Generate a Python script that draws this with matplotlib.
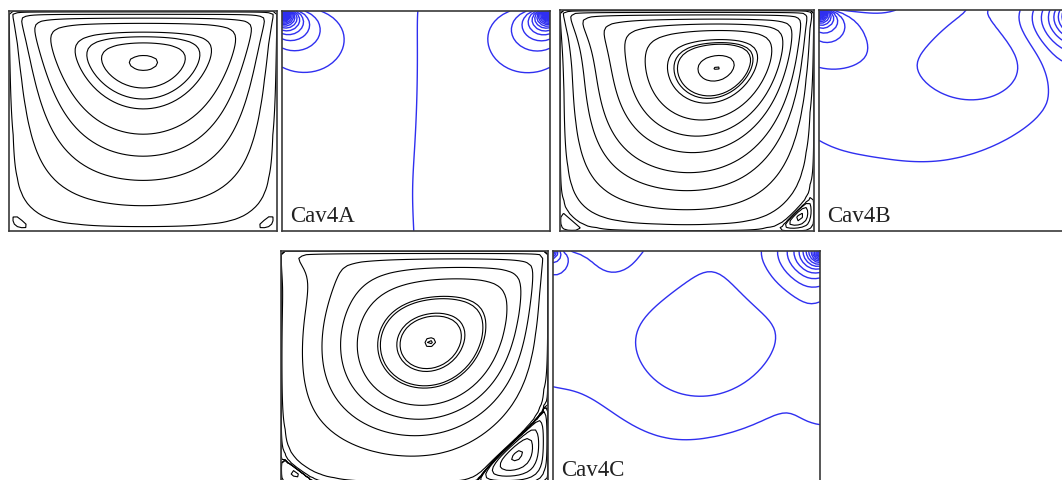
import numpy as np
import matplotlib
matplotlib.use("Agg")
import matplotlib.pyplot as plt

# lid-driven cavity cases: Reynolds number, grid intervals, run time
cases = ["Cav4A", "Cav4B", "Cav4C"]
reynolds = [1.0, 100.0, 400.0]
grid_n = [64, 64, 64]
t_stop = [0.2, 25.0, 35.0]

# streamlines: points (x, y) each main-vortex streamline passes through
psi_pts = [
    [(0.5, 0.73), (0.5, 0.65), (0.5, 0.60), (0.5, 0.555), (0.5, 0.44),
     (0.5, 0.34), (0.5, 0.23), (0.5, 0.115), (0.5, 0.02)],
    None,
    None,
]
# or, where no points are given, fractions of the vortex minimum
core_fracs = [
    None,
    [0.9995, 0.97, 0.88, 0.86, 0.82, 0.66, 0.5, 0.35, 0.2, 0.1, 0.03,
     3e-3, 1e-4],
    [0.9995, 0.998, 0.935, 0.92, 0.82, 0.80, 0.62, 0.45, 0.26, 0.09,
     1e-3, 1e-4, 1e-6],
]
# corner eddy levels, fractions of the strongest eddy
eddy_fracs = [
    [0.5],
    [0.02, 0.2, 0.5, 0.9],
    [1e-5, 1e-3, 0.02, 0.1, 0.3, 0.6, 0.95],
]
# isobars: a point on one isobar and a point on the next one
iso_pt0 = [(0.5, 0.5), (0.545, 0.595), (0.569, 0.38)]
iso_pt1 = [(0.0, 0.745), (0.0, 0.41), (0.0, 0.42)]
n_iso = 60

# panel boxes in pixels (left, top, right, bottom), figure is 1062x481
W, H = 1062.0, 481.0
stream_box = [(9, 12, 277, 232), (560, 11, 814, 232), (281, 252, 548, 486)]
press_box = [(282, 12, 550, 232), (819, 11, 1086, 232), (553, 252, 820, 486)]

BLUE = "#2f2ff0"


def solve_cavity(re, n, t_end):
    h = 1.0 / n
    k = np.arange(1, n)
    sn = np.sin(np.pi * np.outer(k, k) / n)
    lam = (2.0 * np.cos(np.pi * k / n) - 2.0) / h ** 2
    denom = (lam[:, None] + lam[None, :]) / (2.0 / n) ** 2
    psi = np.zeros((n + 1, n + 1))
    w = np.zeros((n + 1, n + 1))
    dt = min(0.2 * h * h * re, 1.0 / re, 0.5 * h)
    for _ in range(int(t_end / dt)):
        psi[1:-1, 1:-1] = sn @ ((sn @ (-w[1:-1, 1:-1]) @ sn) / denom) @ sn
        # Thom wall vorticity, lid last so its corners win
        w[:, 0] = -2.0 * psi[:, 1] / h ** 2
        w[:, -1] = -2.0 * psi[:, -2] / h ** 2
        w[0, :] = -2.0 * psi[1, :] / h ** 2
        w[-1, :] = -2.0 * (psi[-2, :] + h) / h ** 2
        u = (psi[2:, 1:-1] - psi[:-2, 1:-1]) / (2 * h)
        v = -(psi[1:-1, 2:] - psi[1:-1, :-2]) / (2 * h)
        wc = w[1:-1, 1:-1]
        wx = (w[1:-1, 2:] - w[1:-1, :-2]) / (2 * h)
        wy = (w[2:, 1:-1] - w[:-2, 1:-1]) / (2 * h)
        lap = (w[1:-1, 2:] + w[1:-1, :-2] + w[2:, 1:-1] + w[:-2, 1:-1] - 4 * wc) / h ** 2
        w[1:-1, 1:-1] = wc + dt * (lap / re - u * wx - v * wy)
    return psi, w


def pressure(psi, w, re, n):
    # least-squares fit of p to the momentum-equation pressure gradient
    h = 1.0 / n
    u = np.gradient(psi, h, axis=0)
    v = -np.gradient(psi, h, axis=1)
    u[0, :] = 0.0
    u[:, 0] = 0.0
    u[:, -1] = 0.0
    u[-1, :] = 1.0
    v[0, :] = 0.0
    v[-1, :] = 0.0
    v[:, 0] = 0.0
    v[:, -1] = 0.0
    cx = u * np.gradient(u, h, axis=1) + v * np.gradient(u, h, axis=0)
    cy = u * np.gradient(v, h, axis=1) + v * np.gradient(v, h, axis=0)
    for cc in (cx, cy):
        cc[0, :] = 0.0
        cc[-1, :] = 0.0
        cc[:, 0] = 0.0
        cc[:, -1] = 0.0
    gx = -cx - np.gradient(w, h, axis=0) / re
    gy = -cy + np.gradient(w, h, axis=1) / re
    ex = 0.5 * (gx[:, :-1] + gx[:, 1:])
    ey = 0.5 * (gy[:-1, :] + gy[1:, :])
    rhs = np.zeros_like(psi)
    rhs[:, :-1] += ex / h
    rhs[:, 1:] -= ex / h
    rhs[:-1, :] += ey / h
    rhs[1:, :] -= ey / h
    m = n + 1
    lap = np.diag(-2.0 * np.ones(m)) + np.diag(np.ones(m - 1), 1) + np.diag(np.ones(m - 1), -1)
    lap[0, 0] = -1.0
    lap[-1, -1] = -1.0
    lam, vec = np.linalg.eigh(lap / h ** 2)
    q = vec.T @ rhs @ vec
    den = lam[:, None] + lam[None, :]
    zero = np.abs(den) < 1e-9 * np.abs(den).max()
    den[zero] = 1.0
    q = q / den
    q[zero] = 0.0
    return vec @ q @ vec.T


def sample(field, x, y):
    n = field.shape[0] - 1
    fx, fy = x * n, y * n
    i0 = min(int(fx), n - 1)
    j0 = min(int(fy), n - 1)
    ax_, ay_ = fx - i0, fy - j0
    return ((1 - ax_) * (1 - ay_) * field[j0, i0] + ax_ * (1 - ay_) * field[j0, i0 + 1]
            + (1 - ax_) * ay_ * field[j0 + 1, i0] + ax_ * ay_ * field[j0 + 1, i0 + 1])


def add_panel(fig, box):
    l, t, r, b = box
    ax = fig.add_axes([l / W, 1 - b / H, (r - l) / W, (b - t) / H])
    ax.set_xlim(0, 1)
    ax.set_ylim(0, 1)
    ax.set_xticks([])
    ax.set_yticks([])
    for s in ax.spines.values():
        s.set_color("#3a3a3a")
        s.set_linewidth(1.2)
    return ax


fig = plt.figure(figsize=(10.62, 4.81), dpi=100)

for c in range(3):
    n = grid_n[c]
    psi, w = solve_cavity(reynolds[c], n, t_stop[c])
    p = pressure(psi, w, reynolds[c], n)
    g = np.linspace(0, 1, n + 1)
    X, Y = np.meshgrid(g, g)

    # streamlines
    ax = add_panel(fig, stream_box[c])
    if psi_pts[c] is not None:
        lv = [sample(psi, x, y) for x, y in psi_pts[c]]
    else:
        lv = [psi.min() * fr for fr in core_fracs[c]]
    lv += [psi.max() * fr for fr in eddy_fracs[c]]
    ax.contour(X, Y, psi, levels=sorted(set(lv)), colors="k",
               linewidths=0.8, linestyles="solid")

    # isobars
    ax = add_panel(fig, press_box[c])
    p0 = sample(p, *iso_pt0[c])
    dp = abs(sample(p, *iso_pt1[c]) - p0)
    plv = p0 + dp * np.arange(-n_iso, n_iso + 1)
    ax.contour(X, Y, p, levels=plv, colors=BLUE, linewidths=1.0,
               linestyles="solid")
    l, t, r, b = press_box[c]
    ax.text(8 / (r - l), 10 / (b - t), cases[c], transform=ax.transAxes,
            family="Liberation Serif", fontsize=16.5, color="#222222", va="baseline")

fig.savefig("out.png", dpi=100)
